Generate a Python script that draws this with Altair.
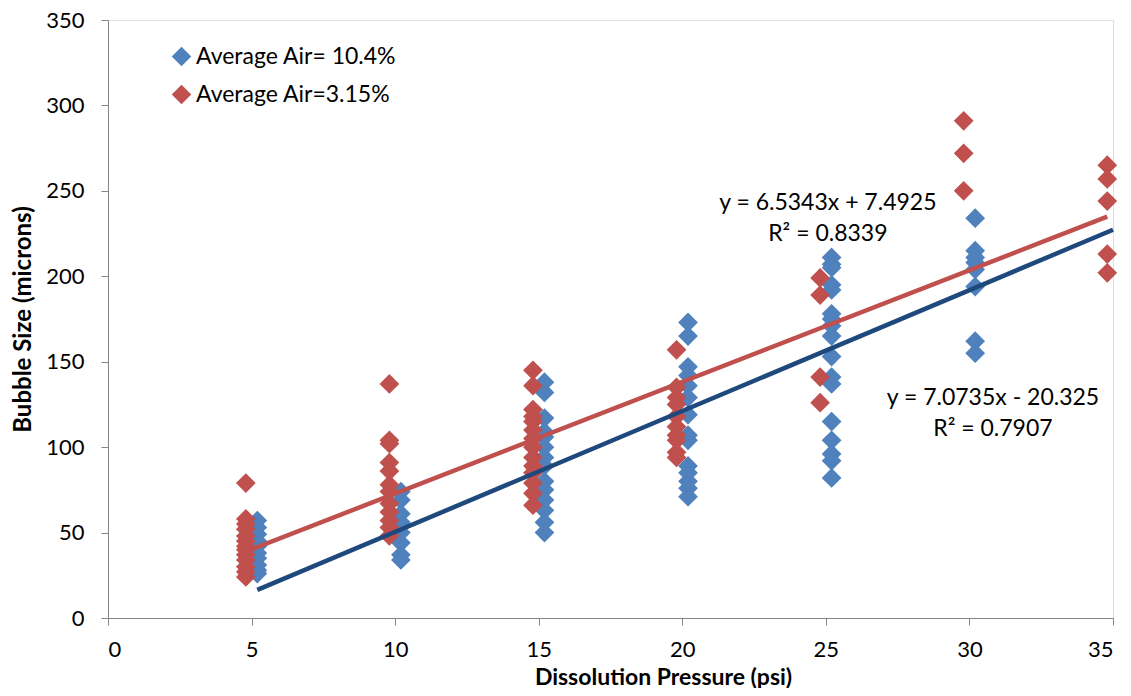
import altair as alt
import pandas as pd

# ---- data ----
blue_name = "Average Air= 10.4%"
red_name = "Average Air=3.15%"

blue_x = [5.2]*10 + [10.2]*8 + [15.2]*14 + [20.2]*14 + [25.2]*17 + [30.2]*8
blue_y = [57, 53, 49, 45, 42, 38, 35, 31, 28, 26,
          74, 69, 61, 56, 50, 44, 37, 34,
          138, 132, 117, 109, 106, 100, 94, 89, 80, 75, 69, 63, 56, 50,
          173, 165, 147, 142, 136, 129, 119, 107, 104, 89, 85, 80, 76, 71,
          211, 207, 205, 195, 192, 178, 175, 171, 165, 153, 141, 137, 115, 104, 96, 92, 82,
          234, 215, 211, 208, 204, 194, 162, 155]

red_x = [4.8]*13 + [9.8]*12 + [14.8]*14 + [19.8]*10 + [24.8]*4 + [29.8]*3 + [34.8]*5
red_y = [79, 58, 55, 52, 48, 45, 42, 40, 37, 34, 30, 27, 24,
         137, 104, 102, 91, 86, 78, 74, 67, 62, 57, 53, 48,
         145, 136, 122, 118, 115, 110, 105, 100, 94, 89, 85, 79, 73, 66,
         157, 135, 129, 125, 118, 112, 107, 104, 97, 94,
         199, 189, 141, 126,
         291, 272, 250,
         265, 257, 244, 213, 202]

# trend lines (Excel linear fits shown on the chart)
trend_series = [red_name, blue_name]
trend_slope = [6.5343, 7.0735]
trend_intercept = [7.4925, -20.325]
trend_x_start = [4.8, 5.2]
trend_x_end = [34.8, 35.0]

eq_text = ["y = 6.5343x + 7.4925", "R\u00b2 = 0.8339",
           "y = 7.0735x - 20.325", "R\u00b2 = 0.7907"]
eq_x = [25.07, 25.07, 30.82, 30.82]
eq_y = [243.0, 225.0, 129.0, 110.6]

x_ticks = [0, 5, 10, 15, 20, 25, 30, 35]
y_ticks = [0, 50, 100, 150, 200, 250, 300, 350]

# ---- tables ----
pts = pd.DataFrame({
    "x": blue_x + red_x,
    "y": blue_y + red_y,
    "series": [blue_name]*len(blue_x) + [red_name]*len(red_x),
})

rows = []
for s, m, b, x0, x1 in zip(trend_series, trend_slope, trend_intercept, trend_x_start, trend_x_end):
    for xv in (x0, x1):
        rows.append({"x": xv, "y": m*xv + b, "trend": s})
trend = pd.DataFrame(rows)

labels = pd.DataFrame({"x": eq_x, "y": eq_y, "t": eq_text})

FONT = "Lato"
blue = "#4F81BD"
red = "#C0504D"

xscale = alt.Scale(domain=[0, 35], nice=False, zero=False)
yscale = alt.Scale(domain=[0, 350], nice=False)

xaxis = alt.Axis(values=x_ticks, title="Dissolution Pressure (psi)", grid=False,
                 labelFontSize=22, titleFontSize=23, titleFontWeight="bold",
                 labelColor="#000", titleColor="#000", domainColor="#868686",
                 tickColor="#868686", tickSize=7, labelPadding=14,
                 titleX=555, titleY=66, titleAlign="center", titleBaseline="alphabetic",
                 labelFont=FONT, titleFont=FONT)
yaxis = alt.Axis(values=y_ticks, title="Bubble Size (microns)", grid=False,
                 labelFontSize=22, titleFontSize=24, titleFontWeight="bold",
                 labelColor="#000", titleColor="#000", domainColor="#868686",
                 tickColor="#868686", tickSize=7, labelPadding=17,
                 titleX=-85, titleY=299, titleAlign="center", titleBaseline="middle",
                 titleAngle=270,
                 labelFont=FONT, titleFont=FONT)

points = alt.Chart(pts).mark_point(shape="diamond", filled=True, size=390, opacity=1).encode(
    x=alt.X("x:Q", scale=xscale, axis=xaxis),
    y=alt.Y("y:Q", scale=yscale, axis=yaxis),
    color=alt.Color("series:N",
                    scale=alt.Scale(domain=[blue_name, red_name], range=[blue, red]),
                    legend=alt.Legend(title=None, orient="none", legendX=62, legendY=25,
                                      labelFontSize=23, labelFont=FONT, labelColor="#000",
                                      labelLimit=400,
                                      symbolType="diamond", symbolSize=380,
                                      symbolStrokeWidth=0, rowPadding=14, labelOffset=3)),
)

lines = alt.Chart(trend).mark_line(strokeWidth=4.5).encode(
    x=alt.X("x:Q", scale=xscale),
    y=alt.Y("y:Q", scale=yscale),
    detail="trend:N",
    color=alt.Color("trend:N",
                    scale=alt.Scale(domain=[red_name, blue_name], range=[red, "#1F497D"]),
                    legend=None),
)

text = alt.Chart(labels).mark_text(fontSize=23, font=FONT, color="#000", align="center",
                                   baseline="middle").encode(
    x=alt.X("x:Q", scale=xscale), y=alt.Y("y:Q", scale=yscale), text="t:N")

chart = alt.layer(points, lines, text).resolve_scale(color="independent").properties(
    width=1005, height=598,
    autosize=alt.AutoSizeParams(type="none"),
    padding={"left": 100, "top": 12, "right": 10, "bottom": 70},
).configure_view(stroke=None).configure(background="white")

chart.save("out.html", embed_options={"renderer": "svg", "actions": False})
